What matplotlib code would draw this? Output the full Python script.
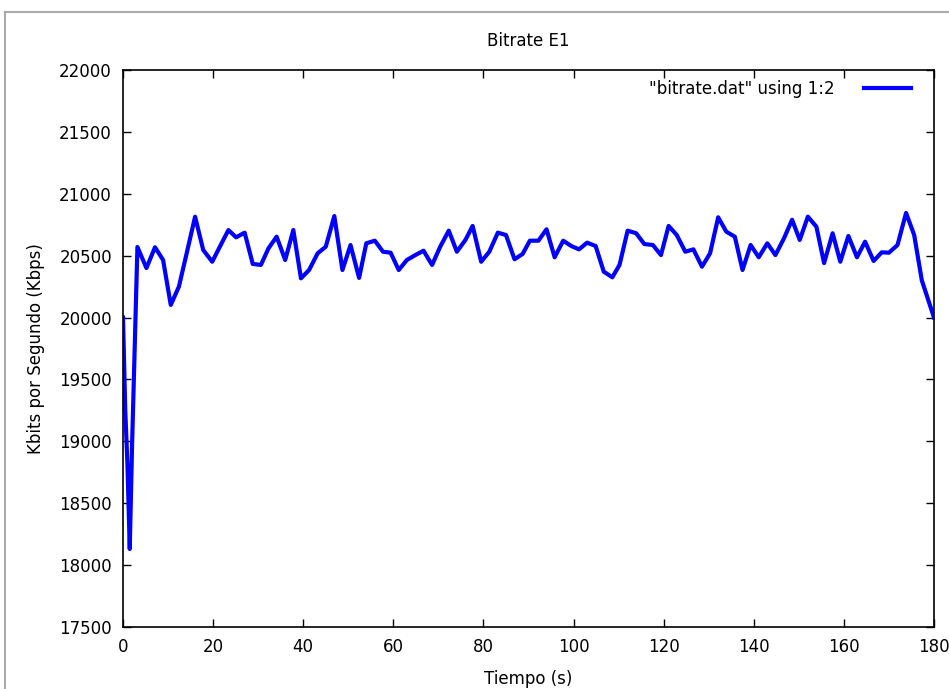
import matplotlib
matplotlib.use("Agg")
import matplotlib.pyplot as plt
from matplotlib.lines import Line2D

# Bitrate samples (time in s, rate in Kbps)
tiempo = [0.0, 0.5, 1.0, 1.5, 2.0, 3.2, 5.2, 7.1, 8.9, 10.6, 12.4, 14.2, 16.0,
          17.8, 19.8, 21.6, 23.4, 25.1, 27.0, 28.8, 30.6, 32.3, 34.1, 36.0,
          37.8, 39.5, 41.3, 43.2, 45.0, 46.9, 48.7, 50.5, 52.4, 54.0, 55.9,
          57.7, 59.4, 61.2, 63.0, 64.9, 66.7, 68.6, 70.4, 72.3, 74.1, 76.0,
          77.6, 79.5, 81.3, 83.2, 85.0, 86.9, 88.7, 90.3, 92.2, 94.0, 95.8,
          97.7, 99.5, 101.2, 103.0, 104.9, 106.7, 108.6, 110.2, 112.0, 113.9,
          115.7, 117.6, 119.4, 121.1, 122.9, 124.8, 126.6, 128.5, 130.3,
          132.1, 133.9, 135.8, 137.5, 139.3, 141.1, 143.0, 144.8, 146.7,
          148.5, 150.2, 152.0, 153.9, 155.6, 157.5, 159.2, 161.0, 162.9,
          164.7, 166.6, 168.4, 170.0, 171.9, 173.8, 175.6, 177.3, 180.0]
kbps = [20000, 19250, 18800, 18130, 18950, 20570, 20400, 20568, 20465, 20102,
        20249, 20530, 20815, 20546, 20451, 20580, 20707, 20648, 20686, 20433,
        20425, 20560, 20653, 20465, 20707, 20317, 20384, 20519, 20572, 20820,
        20384, 20586, 20320, 20600, 20621, 20532, 20524, 20384, 20465, 20505,
        20540, 20425, 20572, 20702, 20532, 20627, 20740, 20451, 20532, 20686,
        20667, 20471, 20514, 20621, 20621, 20713, 20487, 20621, 20578, 20551,
        20605, 20578, 20371, 20325, 20425, 20702, 20681, 20594, 20586, 20505,
        20740, 20667, 20532, 20551, 20411, 20519, 20810, 20694, 20653, 20384,
        20586, 20487, 20600, 20505, 20640, 20790, 20627, 20815, 20734, 20440,
        20681, 20451, 20659, 20487, 20613, 20457, 20527, 20524, 20586, 20845,
        20667, 20300, 20000]

xticks = list(range(0, 181, 20))
yticks = list(range(17500, 22001, 500))

plt.rcParams["font.family"] = ["DejaVu Sans"]

fig = plt.figure(figsize=(9.49, 6.89), dpi=100)
ax = fig.add_axes([123 / 949, 1 - 627 / 689, (934 - 123) / 949, (627 - 70) / 689])

ax.plot(tiempo, kbps, color="#0000ff", linewidth=3,
        label='"bitrate.dat" using 1:2')

ax.set_xlim(0, 180)
ax.set_ylim(17500, 22000)
ax.set_xticks(xticks)
ax.set_yticks(yticks)
ax.tick_params(direction="in", length=6, width=1, top=True, right=True,
               labelsize=12, pad=8, colors="black")
for s in ax.spines.values():
    s.set_linewidth(1.2)
    s.set_color("black")

ax.set_title("Bitrate E1", fontsize=12, pad=17)
ax.set_xlabel("Tiempo (s)", fontsize=12, labelpad=10)
ax.set_ylabel("Kbits por Segundo (Kbps)", fontsize=12, labelpad=10)

ax.legend(loc="upper right", bbox_to_anchor=(1 - 13 / 811, 1), frameon=False,
          markerfirst=False, fontsize=12, handlelength=2.8, handletextpad=1.8,
          borderaxespad=0.4, borderpad=0.2)

# screenshot frame (gray border on the left and top)
fig.add_artist(Line2D([5 / 949, 5 / 949], [0, 1 - 12 / 689],
                      transform=fig.transFigure, color="#aaaaaa", linewidth=1.5))
fig.add_artist(Line2D([5 / 949, 1], [1 - 12 / 689, 1 - 12 / 689],
                      transform=fig.transFigure, color="#aaaaaa", linewidth=1.5))

fig.savefig("out.png", dpi=100)
